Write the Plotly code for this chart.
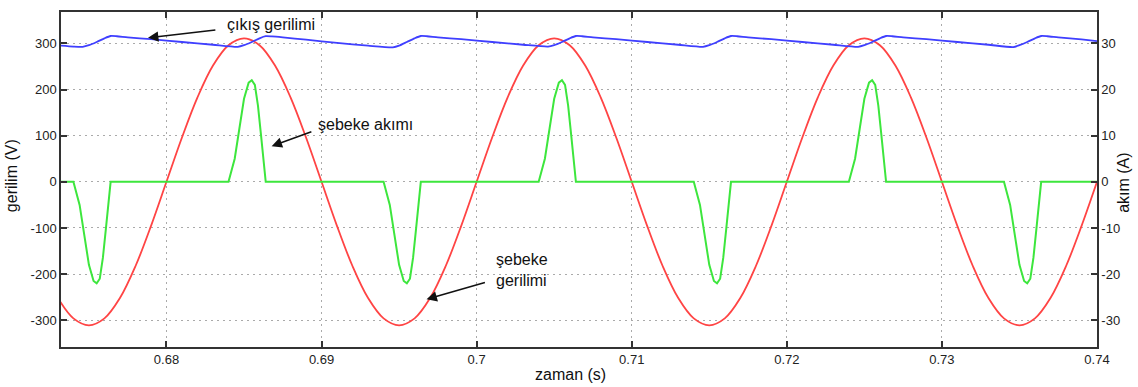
import plotly.graph_objects as go

# ---- data ----
# grid voltage (şebeke gerilimi), V
t_grid = [0.673, 0.674, 0.675, 0.676, 0.677, 0.678, 0.679, 0.680,
          0.681, 0.682, 0.683, 0.684, 0.685, 0.686, 0.687, 0.688, 0.689, 0.690,
          0.691, 0.692, 0.693, 0.694, 0.695, 0.696, 0.697, 0.698, 0.699, 0.700,
          0.701, 0.702, 0.703, 0.704, 0.705, 0.706, 0.707, 0.708, 0.709, 0.710,
          0.711, 0.712, 0.713, 0.714, 0.715, 0.716, 0.717, 0.718, 0.719, 0.720,
          0.721, 0.722, 0.723, 0.724, 0.725, 0.726, 0.727, 0.728, 0.729, 0.730,
          0.731, 0.732, 0.733, 0.734, 0.735, 0.736, 0.737, 0.738, 0.739, 0.740]
v_grid = [-252, -296, -311, -296, -252, -183, -96, 0,
          96, 183, 252, 296, 311, 296, 252, 183, 96, 0,
          -96, -183, -252, -296, -311, -296, -252, -183, -96, 0,
          96, 183, 252, 296, 311, 296, 252, 183, 96, 0,
          -96, -183, -252, -296, -311, -296, -252, -183, -96, 0,
          96, 183, 252, 296, 311, 296, 252, 183, 96, 0,
          -96, -183, -252, -296, -311, -296, -252, -183, -96, 0]

# output voltage (çıkış gerilimi), V
t_out = [0.6732, 0.6740,
         0.6746, 0.6750, 0.6755, 0.6760, 0.6764, 0.6768, 0.6775, 0.6790, 0.6810, 0.6830,
         0.6846, 0.6850, 0.6855, 0.6860, 0.6864, 0.6868, 0.6875, 0.6890, 0.6910, 0.6930,
         0.6946, 0.6950, 0.6955, 0.6960, 0.6964, 0.6968, 0.6975, 0.6990, 0.7010, 0.7030,
         0.7046, 0.7050, 0.7055, 0.7060, 0.7064, 0.7068, 0.7075, 0.7090, 0.7110, 0.7130,
         0.7146, 0.7150, 0.7155, 0.7160, 0.7164, 0.7168, 0.7175, 0.7190, 0.7210, 0.7230,
         0.7246, 0.7250, 0.7255, 0.7260, 0.7264, 0.7268, 0.7275, 0.7290, 0.7310, 0.7330,
         0.7346, 0.7350, 0.7355, 0.7360, 0.7364, 0.7368, 0.7375, 0.7390, 0.7400]
v_out = [295, 293,
         292.5, 296, 303, 311, 316, 315.5, 313, 309, 303, 297,
         292.5, 296, 303, 311, 315.5, 315, 313, 308, 301, 295,
         291.5, 295, 303, 311, 316, 315.5, 313, 309, 303, 297,
         293, 296, 303, 311, 316, 315.5, 313, 309, 303, 297,
         292.5, 296, 303, 311, 316, 315.5, 313, 309, 303, 297,
         292.5, 296, 303, 311, 316, 315.5, 313, 309, 303, 297,
         292, 296, 303, 311, 316, 315.5, 313, 308.5, 305]

# grid current (şebeke akımı), A
t_cur = [0.6732,
         0.6740, 0.6744, 0.6747, 0.6750, 0.6753, 0.6755, 0.6757, 0.6759, 0.6761, 0.6763, 0.6764,
         0.6840, 0.6844, 0.6847, 0.6850, 0.6853, 0.6855, 0.6857, 0.6859, 0.6861, 0.6863, 0.6864,
         0.6940, 0.6944, 0.6947, 0.6950, 0.6953, 0.6955, 0.6957, 0.6959, 0.6961, 0.6963, 0.6964,
         0.7040, 0.7044, 0.7047, 0.7050, 0.7053, 0.7055, 0.7057, 0.7059, 0.7061, 0.7063, 0.7064,
         0.7140, 0.7144, 0.7147, 0.7150, 0.7153, 0.7155, 0.7157, 0.7159, 0.7161, 0.7163, 0.7164,
         0.7240, 0.7244, 0.7247, 0.7250, 0.7253, 0.7255, 0.7257, 0.7259, 0.7261, 0.7263, 0.7264,
         0.7340, 0.7344, 0.7347, 0.7350, 0.7353, 0.7355, 0.7357, 0.7359, 0.7361, 0.7363, 0.7364,
         0.7400]
i_cur = [0,
         0, -5, -11.5, -18, -21.5, -22, -21, -16.5, -10, -4, 0,
         0, 5, 11.5, 18, 21.5, 22, 21, 16.5, 10, 4, 0,
         0, -5, -11.5, -18, -21.5, -22, -21, -16.5, -10, -4, 0,
         0, 5, 11.5, 18, 21.5, 22, 21, 16.5, 10, 4, 0,
         0, -5, -11.5, -18, -21.5, -22, -21, -16.5, -10, -4, 0,
         0, 5, 11.5, 18, 21.5, 22, 21, 16.5, 10, 4, 0,
         0, -5, -11.5, -18, -21.5, -22, -21, -16.5, -10, -4, 0,
         0]

x_ticks = [0.68, 0.69, 0.70, 0.71, 0.72, 0.73, 0.74]
x_tick_text = ["0.68", "0.69", "0.7", "0.71", "0.72", "0.73", "0.74"]
y_ticks = [-300, -200, -100, 0, 100, 200, 300]
y_tick_text = ["-300", "-200", "-100", "0", "100", "200", "300"]
y2_ticks = [-30, -20, -10, 0, 10, 20, 30]
y2_tick_text = ["-30", "-20", "-10", "0", "10", "20", "30"]

FONT = "Liberation Sans, Arial, sans-serif"

fig = go.Figure()
fig.add_trace(go.Scatter(x=t_cur, y=i_cur, yaxis="y2", mode="lines",
                         line=dict(color="#3de63d", width=2), name="şebeke akımı"))
fig.add_trace(go.Scatter(x=t_grid, y=v_grid, mode="lines",
                         line=dict(color="#ff4444", width=1.8, shape="spline"), name="şebeke gerilimi"))
fig.add_trace(go.Scatter(x=t_out, y=v_out, mode="lines",
                         line=dict(color="#3f3fff", width=1.8, shape="spline", smoothing=0.6),
                         name="çıkış gerilimi"))

axis_common = dict(showline=True, linecolor="#333333", linewidth=1.5,
                   ticks="inside", ticklen=6, tickwidth=1.5, tickcolor="#333333",
                   tickfont=dict(family=FONT, size=13, color="#222222"),
                   zeroline=False)

fig.update_layout(
    width=1138, height=387,
    margin=dict(l=61, r=41, t=10, b=40),
    paper_bgcolor="white", plot_bgcolor="white",
    showlegend=False,
    font=dict(family=FONT),
    xaxis=dict(range=[0.6732, 0.74], tickvals=x_ticks, ticktext=x_tick_text,
               mirror="ticks", showgrid=True, gridcolor="#aaaaaa", griddash="2px,4px",
               gridwidth=1.2, **axis_common),
    yaxis=dict(range=[-358, 368], tickvals=y_ticks, ticktext=y_tick_text, mirror=True,
               showgrid=True, gridcolor="#aaaaaa", griddash="2px,4px", gridwidth=1.2,
               **axis_common),
    yaxis2=dict(range=[-35.8, 36.8], tickvals=y2_ticks, ticktext=y2_tick_text,
                overlaying="y", side="right", showgrid=False, **axis_common),
)

ann = []
title_font = dict(family=FONT, size=16, color="#111")
# axis titles
ann.append(dict(text="gerilim (V)", xref="paper", yref="paper", x=(11 - 61) / 1036, y=0.51,
                xanchor="center", yanchor="middle",
                textangle=-90, showarrow=False, font=title_font))
ann.append(dict(text="akım (A)", xref="paper", yref="paper", x=(1124 - 61) / 1036, y=0.49,
                xanchor="center", yanchor="middle",
                textangle=-90, showarrow=False, font=title_font))
ann.append(dict(text="zaman (s)", xref="paper", yref="paper", x=(570 - 61) / 1036,
                y=(347 - 375) / 337, xanchor="center", yanchor="middle",
                showarrow=False, font=title_font))
# labels
lab_font = dict(family=FONT, size=16, color="#111")
ann.append(dict(text="çıkış gerilimi", xref="paper", yref="paper", x=(225 - 61) / 1036,
                y=(347 - 23) / 337, xanchor="left", yanchor="middle", showarrow=False, font=lab_font))
ann.append(dict(text="şebeke akımı", xref="paper", yref="paper", x=(316 - 61) / 1036,
                y=(347 - 123) / 337, xanchor="left", yanchor="middle", showarrow=False, font=lab_font))
ann.append(dict(text="şebeke<br>gerilimi", xref="paper", yref="paper", x=(494 - 61) / 1036,
                y=(347 - 270) / 337, xanchor="left", yanchor="middle", align="left",
                showarrow=False, font=lab_font))
# arrows
for hx, hy, tx, ty in [(0.67881, 312, 0.68325, 329.5),
                       (0.68678, 77.3, 0.68944, 109.6),
                       (0.69677, -254.7, 0.70063, -217.4)]:
    ann.append(dict(text="", x=hx, y=hy, xref="x", yref="y", ax=tx, ay=ty, axref="x", ayref="y",
                    showarrow=True, arrowhead=2, arrowsize=1.3, arrowwidth=1.6, arrowcolor="#111"))
fig.update_layout(annotations=ann)

fig.write_html("out.html")
